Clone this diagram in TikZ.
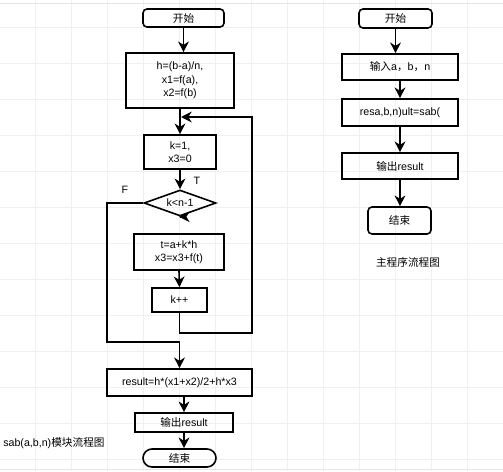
\documentclass[tikz,border=0pt]{standalone}
\usepackage{fontspec}
\setmainfont{Liberation Sans}
\newfontfamily\cjk{Noto Sans CJK SC}
\usetikzlibrary{arrows.meta,shapes.geometric}

\tikzset{
  box/.style={draw, line width=1.2pt, inner sep=1pt, align=center, font=\fontsize{8pt}{10pt}\selectfont},
  term/.style={box, rounded corners=3pt},
  cond/.style={draw, line width=1.2pt, diamond, inner sep=0pt, shape aspect=2.8, font=\fontsize{8pt}{10pt}\selectfont},
  flow/.style={line width=1.2pt, -{Stealth[length=8pt,width=8pt,inset=2.5pt]}},
  note/.style={inner sep=0.75pt, font=\fontsize{8pt}{10pt}\selectfont}
}

\begin{document}
\begin{tikzpicture}[x=0.75pt,y=0.75pt,yscale=-1,xscale=1]
\useasboundingbox (0,0) rectangle (503,471);

%background grid
\foreach \gx in {35,71,...,499} \draw [gray!12, line width=0.5pt] (\gx,0) -- (\gx,471);
\foreach \gy in {27,63,...,463} \draw [gray!12, line width=0.5pt] (0,\gy) -- (503,\gy);
\draw [gray!20, line width=0.6pt] (0,3) -- (503,3);
\draw [gray!20, line width=0.6pt] (0,469) -- (503,469);

% sab(a,b,n) flow
\node [term, minimum width=60.75pt, minimum height=13.5pt] (start1) at (183.5,18) {\cjk 开始};
\node [box, minimum width=81pt, minimum height=41.25pt] (init) at (180,80.5) {h=(b-a)/n,\\x1=f(a),\\x2=f(b)};
\node [box, minimum width=54pt, minimum height=25.5pt] (kinit) at (180,152) {k=1,\\x3=0};
\node [cond, minimum width=54pt, minimum height=19.5pt] (test) at (180,203) {k<n-1};
\node [box, minimum width=67.5pt, minimum height=27pt] (body) at (179,252) {t=a+k*h\\x3=x3+f(t)};
\node [box, minimum width=41.25pt, minimum height=18pt] (inc) at (179.5,300) {k++};
\node [box, minimum width=108.75pt, minimum height=20.25pt] (result) at (179.5,382.5) {result=h*(x1+x2)/2+h*x3};
\node [box, minimum width=73.5pt, minimum height=14.25pt] (out1) at (184,422.5) {{\cjk 输出}result};
\node [box, rounded corners=6.75pt, minimum width=54.75pt, minimum height=13.5pt] (end1) at (179.5,458) {\cjk 结束};

\node [note] (tlabel) at (197,181) {T};
\node [note] (flabel) at (125,190) {F};
\node [note, anchor=west] (cap1) at (2,443) {sab(a,b,n){\cjk 模块流程图}};

\coordinate (loopA) at (252,333);
\coordinate (loopB) at (181,117);
\coordinate (falseA) at (107,342);

\draw [flow] (start1.south) -- (start1.south |- init.north);
\draw [flow] (init.south) -- (init.south |- kinit.north);
\draw [flow] (kinit.south) -- (test.north);
\draw [flow] (test.south) -- (test.south -| body.north);
\draw [flow] (body.south) -- (inc.north);
\draw [flow] (inc.south) |- (loopA) |- (loopB);
\draw [flow] (test.west) -| (falseA) -| (result.north);
\draw [flow] (out1.north |- result.south) -- (out1.north);
\draw [flow] (out1.south) -- (out1.south |- end1.north);

% main flow
\node [term, minimum width=54.75pt, minimum height=14.25pt] (start2) at (395.5,18.5) {\cjk 开始};
\node [box, minimum width=87pt, minimum height=19.5pt] (input) at (400,67) {{\cjk 输入}a{\cjk ，}b{\cjk ，}n};
\node [box, minimum width=87pt, minimum height=20.25pt] (call) at (400,112.5) {resa,b,n)ult=sab(};
\node [box, minimum width=87pt, minimum height=19.5pt] (out2) at (400,166) {{\cjk 输出}result};
\node [term, minimum width=47.25pt, minimum height=20.25pt] (end2) at (399.5,220.5) {\cjk 结束};
\node [note] (cap2) at (408,262) {\cjk 主程序流程图};

\draw [flow] (start2.south) -- (start2.south |- input.north);
\draw [flow] (input.south) -- (call.north);
\draw [flow] (call.south) -- (out2.north);
\draw [flow] (out2.south) -- (out2.south |- end2.north);

\end{tikzpicture}
\end{document}
